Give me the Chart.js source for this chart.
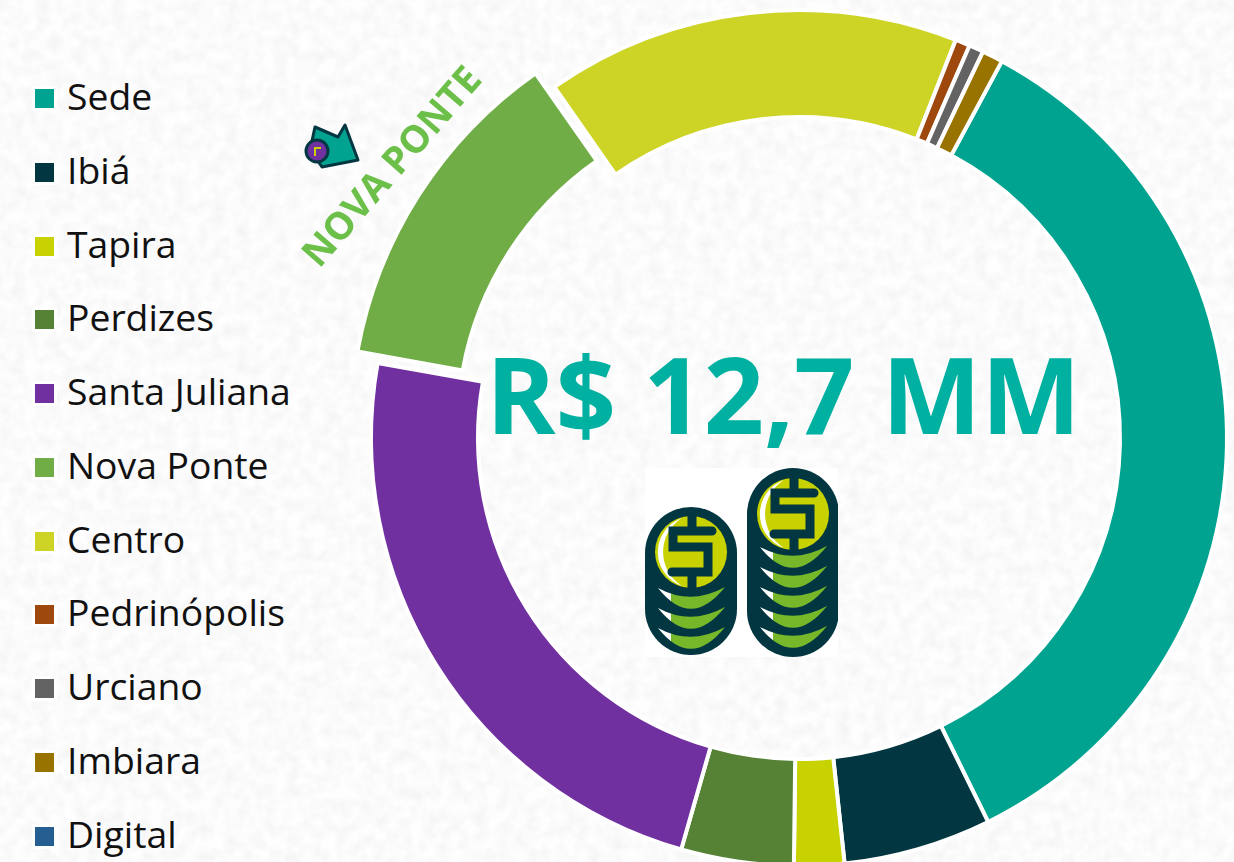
<!DOCTYPE html>
<html>
<head>
<meta charset="utf-8">
<script src="https://cdn.jsdelivr.net/npm/chart.js@4"></script>
<style>
  html, body { margin: 0; padding: 0; width: 1234px; height: 862px; overflow: hidden; background: #fafafa; }
  body { position: relative; font-family: "Open Sans", sans-serif; }
  .layer { position: absolute; left: 0; top: 0; width: 1234px; height: 862px; }
  #wrap { position: absolute; left: 333px; top: -28px; width: 932px; height: 932px; }
  #legend { position: absolute; left: 35px; top: 0; margin: 0; padding: 0; list-style: none; }
  #legend li { position: absolute; left: 0; white-space: nowrap; font-size: 37.3px; line-height: 40px; color: #111; }
  #legend i { position: absolute; left: 0; top: 11px; width: 19px; height: 19px; box-shadow: 0 0 0 3px #fff; }
  #legend span { position: absolute; left: 32px; top: -2px; }
  #total { position: absolute; left: 486px; top: 323px; font-size: 105.5px; line-height: 140px; font-weight: 700; color: #00B0A0; white-space: nowrap; }
  #tag { position: absolute; left: 390px; top: 165px; font-size: 38px; line-height: 50px; font-weight: 700; color: #6CC04A; white-space: nowrap; transform: translate(-50%, -50%) rotate(-49deg); }
</style>
</head>
<body>
<svg class="layer">
  <filter id="paper" x="0" y="0" width="100%" height="100%">
    <feTurbulence type="fractalNoise" baseFrequency="0.08" numOctaves="2" seed="4"/>
    <feColorMatrix type="matrix" values="0 0 0 0 0.9  0 0 0 0 0.9  0 0 0 0 0.9  1.6 0 0 0 -0.5"/>
  </filter>
  <rect width="1234" height="862" fill="#fefefe"/>
  <rect width="1234" height="862" filter="url(#paper)"/>
</svg>

<div id="wrap"><canvas id="ring" width="932" height="932"></canvas></div>
<ul id="legend"></ul>

<svg class="layer">
  <defs>
    <clipPath id="cut"><rect x="645" y="468" width="193" height="189"/></clipPath>
    <linearGradient id="crescent" x1="0" x2="1" y1="0" y2="0">
      <stop offset="0.2" stop-color="#fff"/>
      <stop offset="0.2" stop-color="#76B82A"/>
    </linearGradient>
    <path id="moon" d="M658 588 Q691 630 725 587 Q691 606 658 588Z" fill="url(#crescent)"/>
    <path id="shine" d="M682 518 A36 36 0 0 0 682 586 A40 40 0 0 1 682 518Z" fill="#fff"/>
    <g id="dollar" fill="none" stroke="#023741" stroke-width="9" stroke-linecap="round">
      <path d="M712 531 H673 V547 H708 V572 H672"/>
      <path d="M692 516 V531 M692 572 V590" stroke-linecap="butt"/>
    </g>
  </defs>
  <rect x="645" y="468" width="193" height="189" fill="#fff"/>
  <g clip-path="url(#cut)">
    <rect x="645" y="507" width="92" height="148" rx="46" fill="#023741"/>
    <circle cx="691" cy="552" r="36" fill="#C8D200"/>
    <use href="#shine"/>
    <use href="#dollar"/>
    <use href="#moon"/>
    <use href="#moon" y="20"/>
    <use href="#moon" y="40"/>
    <rect x="747" y="468" width="92" height="189" fill="#023741" rx="46"/>
    <circle cx="793" cy="514" r="36" fill="#C8D200"/>
    <use href="#shine" x="102" y="-38"/>
    <use href="#dollar" x="102" y="-38"/>
    <use href="#moon" x="102" y="-41"/>
    <use href="#moon" x="102" y="-21"/>
    <use href="#moon" x="102" y="-1"/>
    <use href="#moon" x="102" y="19"/>
    <use href="#moon" x="102" y="39"/>
  </g>

  <path d="M315 127 L338 137 L345 125 L358 160 L322 167 L310 150Z" fill="#00A38F" stroke="#023741" stroke-width="3" stroke-linejoin="round"/>
  <circle cx="317" cy="151" r="11" fill="#7030A0" stroke="#023741" stroke-width="3"/>
  <path d="M321 148 H315 V156" fill="none" stroke="#C8D200" stroke-width="2"/>
</svg>

<div id="total">R$ 12,7 MM</div>
<div id="tag">NOVA PONTE</div>

<script>
// R$ milhoes por agencia
const agencias = ["Sede", "Ibiá", "Tapira", "Perdizes", "Santa Juliana", "Nova Ponte", "Centro", "Pedrinópolis", "Urciano", "Imbiara", "Digital"];
const valores = [4.43, 0.71, 0.24, 0.54, 2.97, 1.59, 1.99, 0.07, 0.07, 0.10, 0];
const cores = ["#00A38F", "#023741", "#C8D200", "#558235", "#7030A0", "#70AD47", "#CDD425", "#9E480E", "#636363", "#997300", "#255E91"];
const destaque = [0, 0, 0, 0, 0, 72, 0, 0, 0, 0, 0]; // Nova Ponte sai do anel (o arco anda offset/4)

new Chart(document.getElementById("ring"), {
  type: "doughnut",
  data: {
    labels: agencias,
    datasets: [{
      data: valores,
      backgroundColor: cores,
      borderColor: "#ffffff",
      borderWidth: 4,
      offset: destaque,
    }],
  },
  options: {
    responsive: false,
    animation: false,
    rotation: 28.3,
    cutout: "75%",
    layout: { padding: 0 },
    plugins: {
      legend: { display: false },
      tooltip: { enabled: false },
    },
  },
});

// legenda em html, uma linha por agencia
const legenda = document.getElementById("legend");
agencias.forEach((nome, i) => {
  const li = document.createElement("li");
  li.style.top = 78 + i * 73.75 + "px";
  li.innerHTML = '<i style="background:' + cores[i] + '"></i><span>' + nome + "</span>";
  legenda.appendChild(li);
});
</script>
</body>
</html>
